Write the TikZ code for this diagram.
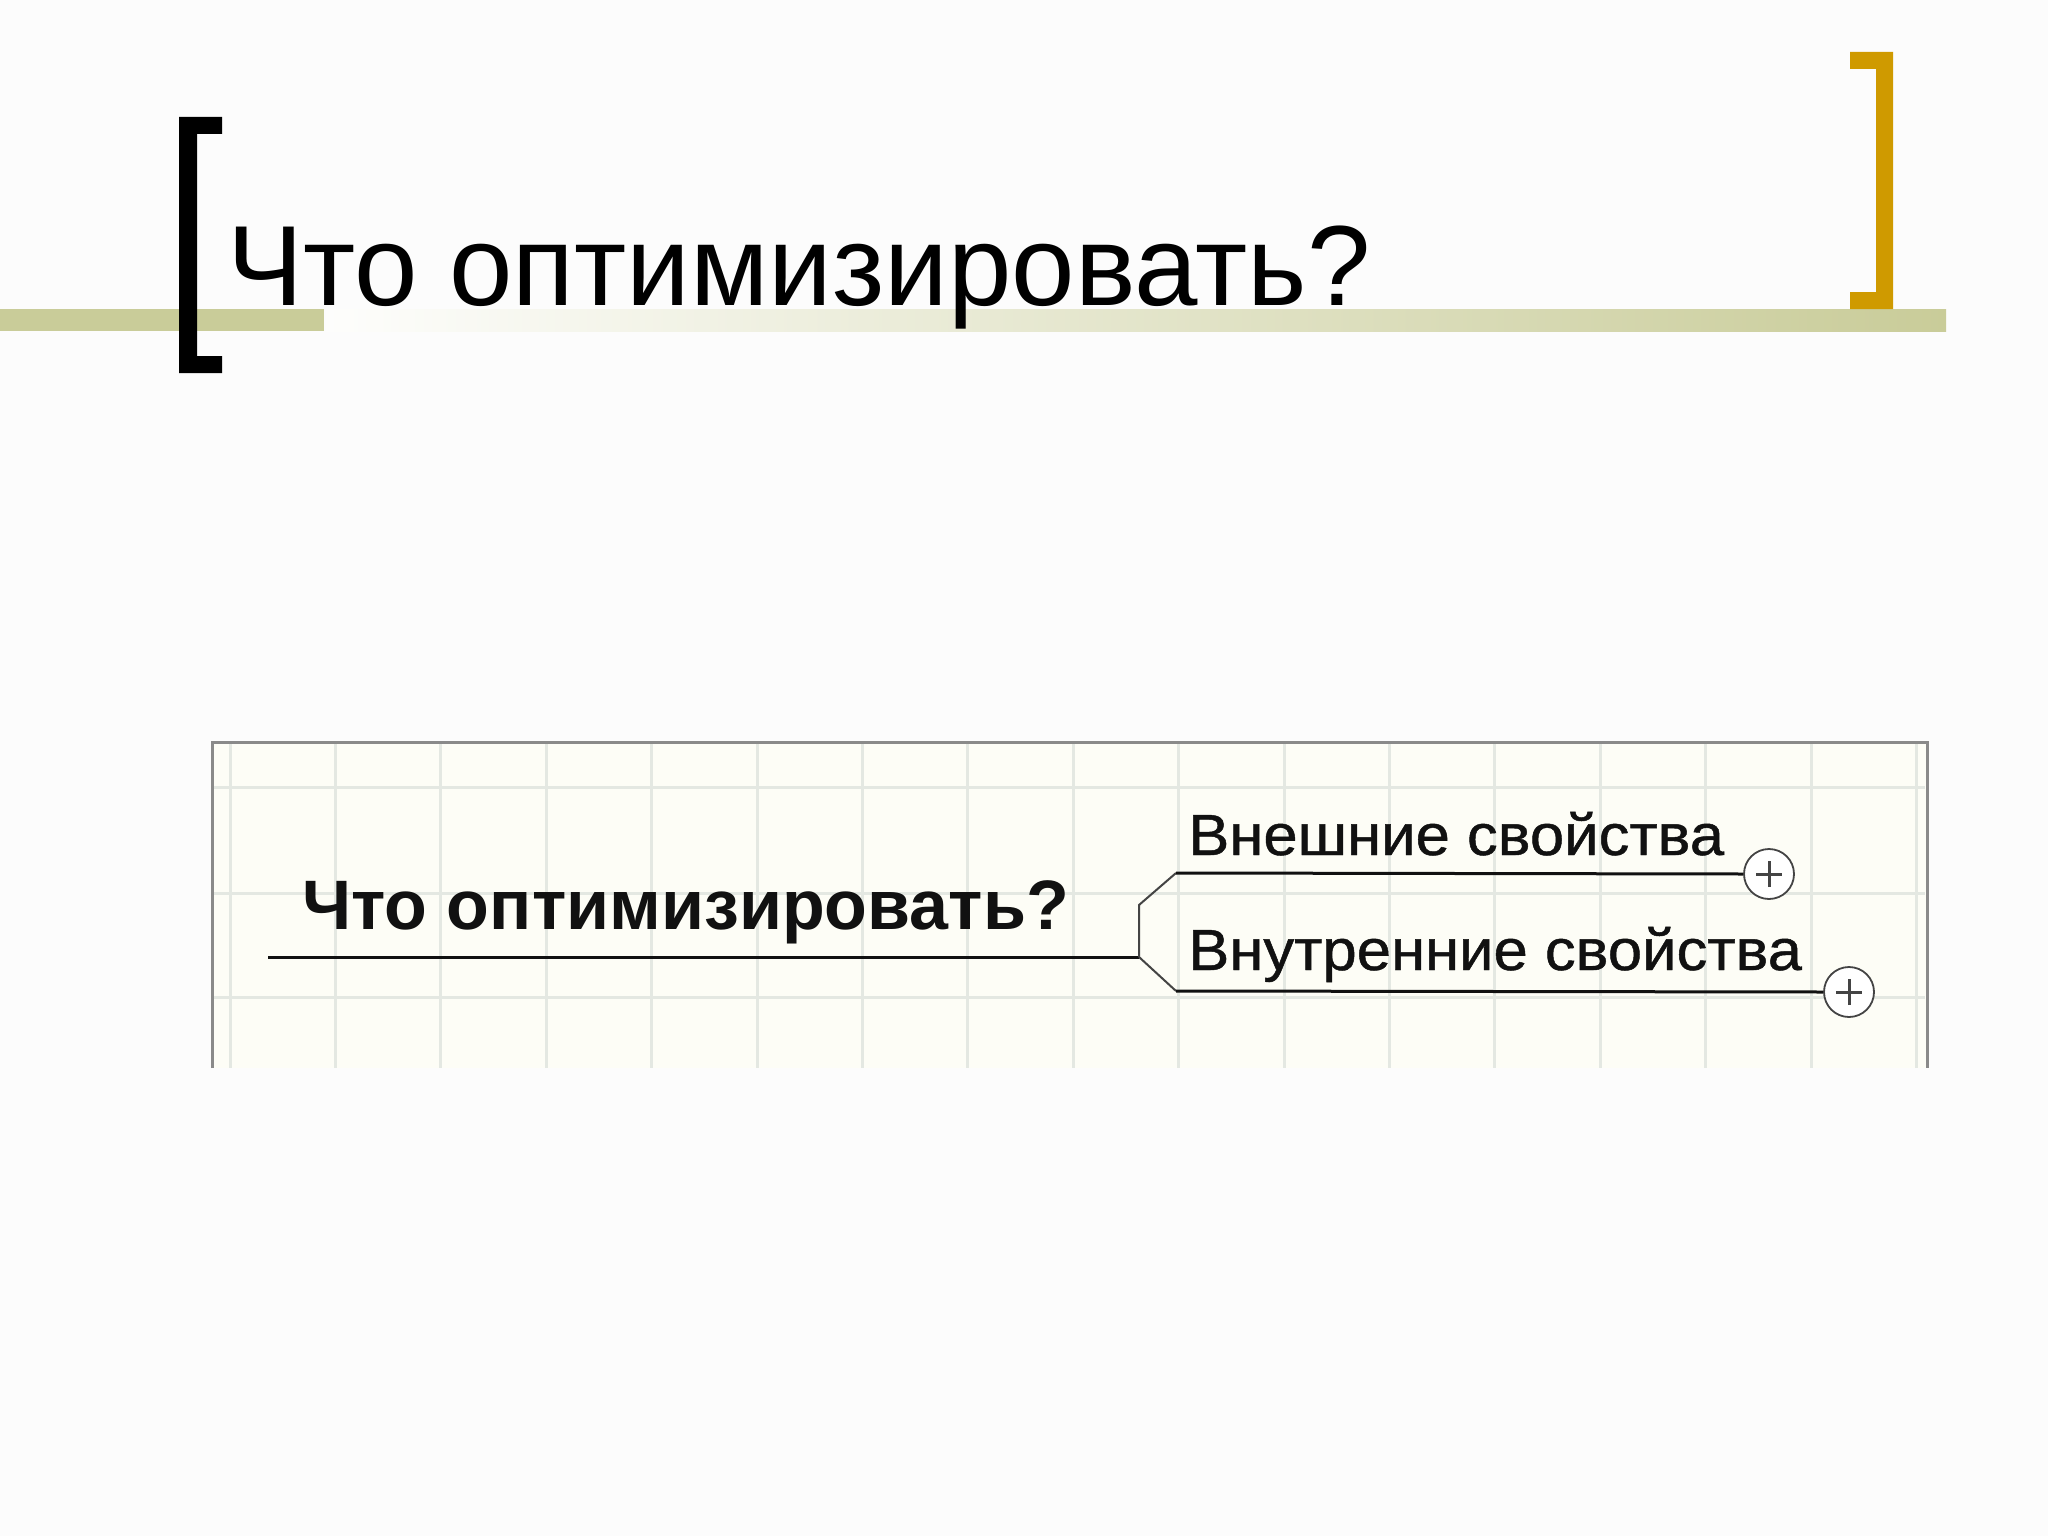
\documentclass[tikz,border=0pt]{standalone}
\usepackage{fontspec}
\setmainfont{Liberation Sans}
\newfontfamily\branchfont[FakeStretch=1.063,FakeBold=0.8]{Liberation Sans}
\definecolor{olivebar}{HTML}{C9CC99}
\definecolor{goldbr}{HTML}{CF9A00}
\definecolor{gridc}{HTML}{E4E8E2}
\definecolor{mmbg}{HTML}{FDFDF6}
\definecolor{bordc}{HTML}{8A8A8A}
\definecolor{linec}{HTML}{111111}
\definecolor{connc}{HTML}{444444}
\tikzset{
  gridline/.style={draw=gridc, line width=3pt},
  branchline/.style={draw=linec, line width=3pt},
  connline/.style={draw=connc, line width=2pt},
  plusc/.style={circle, draw=connc, line width=1.8pt, fill=white, minimum size=50pt, inner sep=0pt},
  plussign/.style={draw=connc, line width=3pt},
  mmtext/.style={anchor=base west, inner sep=0pt, text=linec}
}
\begin{document}
\begin{tikzpicture}[x=1pt,y=-1pt]
\useasboundingbox (0,0) rectangle (2048,1536);
\fill[white!99!black] (0,0) rectangle (2048,1536);
% title bar
\fill[olivebar] (0,309) rectangle (324,331);
\shade[left color=white!97!olivebar, right color=olivebar] (326,309) rectangle (1946,331);
% brackets
\fill[black] (179,117) -- (222,117) -- (222,134) -- (197,134) -- (197,356) -- (222,356) -- (222,373) -- (179,373) -- cycle;
\fill[goldbr] (1893,52) -- (1850,52) -- (1850,69) -- (1876,69) -- (1876,292) -- (1850,292) -- (1850,309) -- (1893,309) -- cycle;
% title
\node[anchor=base west, inner sep=0pt, font=\fontsize{114}{120}\selectfont] (title) at (227,305.7) {Что оптимизировать?};
% mind map picture
\fill[mmbg] (212,742) rectangle (1927,1068);
\foreach \k in {0,...,16} \draw[gridline] ({230+105.4*\k},744) -- ({230+105.4*\k},1068);
\foreach \yy in {787,893,997} \draw[gridline] (214,\yy) -- (1925,\yy);
\draw[bordc, line width=3pt] (212,1068) -- (212,742) -- (1927,742) -- (1927,1068);
% nodes
\node[mmtext, font=\bfseries\fontsize{70}{80}\selectfont] (main) at (302,929) {Что оптимизировать?};
\node[mmtext, font=\branchfont\fontsize{58}{66}\selectfont] (ext) at (1188,855) {Внешние свойства};
\node[mmtext, font=\branchfont\fontsize{58}{66}\selectfont] (int) at (1188,970) {Внутренние свойства};
\node[plusc] (p1) at (1769,874) {};
\node[plusc] (p2) at (1849,992) {};
\draw[plussign] ([xshift=-13pt]p1.center) -- ([xshift=13pt]p1.center);
\draw[plussign] ([yshift=-13pt]p1.center) -- ([yshift=13pt]p1.center);
\draw[plussign] ([xshift=-13pt]p2.center) -- ([xshift=13pt]p2.center);
\draw[plussign] ([yshift=-13pt]p2.center) -- ([yshift=13pt]p2.center);
% connectors
\coordinate (s0) at (268,957);
\coordinate (j1) at (1139,957);
\coordinate (j2) at (1139,905);
\coordinate (b1) at (1176,873);
\coordinate (b2) at (1176,991);
\draw[branchline] (s0) -- (j1);
\draw[connline] (j1) -- (j2) -- (b1);
\draw[connline] (j1) -- (b2);
\draw[branchline] (b1) -- (p1.west);
\draw[branchline] (b2) -- (p2.west);
\end{tikzpicture}
\end{document}
